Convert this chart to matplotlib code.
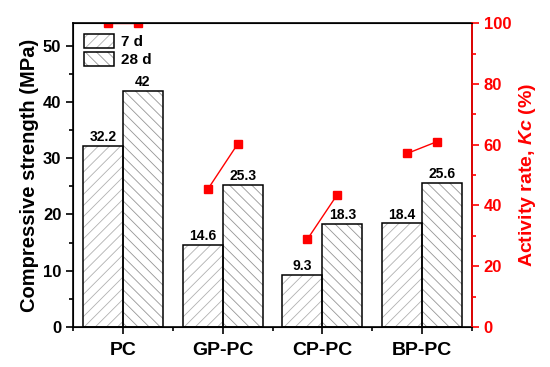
import numpy as np
import matplotlib
matplotlib.use('Agg')
import matplotlib.pyplot as plt
from matplotlib.ticker import MultipleLocator
from matplotlib.patches import Patch

plt.rcParams['font.family'] = 'Liberation Sans'
plt.rcParams['font.weight'] = 'bold'
plt.rcParams['mathtext.fontset'] = 'custom'
plt.rcParams['mathtext.it'] = 'Liberation Sans:bold:italic'
plt.rcParams['hatch.linewidth'] = 0.6

# data
categories = ['PC', 'GP-PC', 'CP-PC', 'BP-PC']
strength_7d = [32.2, 14.6, 9.3, 18.4]
strength_28d = [42, 25.3, 18.3, 25.6]
kc_7d = [100, 45.3, 28.9, 57.1]
kc_28d = [100, 60.2, 43.6, 61.0]

x = np.arange(len(categories))
w = 0.4
hatch_7 = '#b0b0b0'
hatch_28 = '#959595'

fig = plt.figure(figsize=(5.5, 3.67), dpi=100)
ax = fig.add_axes([0.133, 0.109, 0.725, 0.828])

# hatch layer (gray) + outline layer (black)
ax.bar(x - w / 2, strength_7d, w, facecolor='white', edgecolor=hatch_7,
       linewidth=0, hatch='///')
ax.bar(x + w / 2, strength_28d, w, facecolor='white', edgecolor=hatch_28,
       linewidth=0, hatch='\\\\\\')
b1 = ax.bar(x - w / 2, strength_7d, w, facecolor='none', edgecolor='black', linewidth=1.1)
b2 = ax.bar(x + w / 2, strength_28d, w, facecolor='none', edgecolor='black', linewidth=1.1)

for bars, vals in ((b1, strength_7d), (b2, strength_28d)):
    for rect, v in zip(bars, vals):
        ax.text(rect.get_x() + rect.get_width() / 2, v + 0.3, f'{v:g}',
                ha='center', va='bottom', fontsize=10, fontweight='bold')

ax.set_xlim(-0.5, 3.5)
ax.set_ylim(0, 54)
ax.set_xticks(x)
ax.set_xticklabels(categories, fontsize=14, fontweight='bold')
ax.set_xticks(np.arange(-0.5, 4, 1), minor=True)
ax.yaxis.set_major_locator(MultipleLocator(10))
ax.yaxis.set_minor_locator(MultipleLocator(5))
ax.tick_params(axis='both', which='major', direction='out', length=5, width=1.2, labelsize=12)
ax.tick_params(axis='x', which='major', labelsize=14, pad=6)
ax.tick_params(axis='both', which='minor', direction='out', length=3, width=1.2)
ax.set_ylabel('Compressive strength (MPa)', fontsize=14.5, fontweight='bold', labelpad=3)
for s in ax.spines.values():
    s.set_linewidth(1.2)

# legend handles: gray hatch drawn under a black frame
h7 = (Patch(facecolor='white', edgecolor=hatch_7, linewidth=0, hatch='///'),
      Patch(facecolor='none', edgecolor='black', linewidth=1.1))
h28 = (Patch(facecolor='white', edgecolor=hatch_28, linewidth=0, hatch='\\\\\\'),
       Patch(facecolor='none', edgecolor='black', linewidth=1.1))
ax.legend([h7, h28], ['7 d', '28 d'], loc='upper left', frameon=False, fontsize=11,
          handlelength=2.0, handleheight=1.05, borderaxespad=0.3,
          labelspacing=0.2, handletextpad=0.4)

ax2 = ax.twinx()
for i in range(len(categories)):
    ax2.plot([x[i] - 0.15, x[i] + 0.15], [kc_7d[i], kc_28d[i]], color='red',
             linewidth=1.0, marker='s', markersize=6)
ax2.set_ylim(0, 100)
ax2.yaxis.set_major_locator(MultipleLocator(20))
ax2.yaxis.set_minor_locator(MultipleLocator(10))
ax2.tick_params(axis='y', which='major', colors='red', direction='out', length=5, width=1.2, labelsize=12)
ax2.tick_params(axis='y', which='minor', colors='red', direction='out', length=3, width=1.2)
ax2.spines['right'].set_color('red')
ax2.spines['right'].set_linewidth(1.2)
ax2.set_ylabel('Activity rate, $Kc$ (%)', color='red', fontsize=14, fontweight='bold')

fig.savefig('out.png', dpi=100)
